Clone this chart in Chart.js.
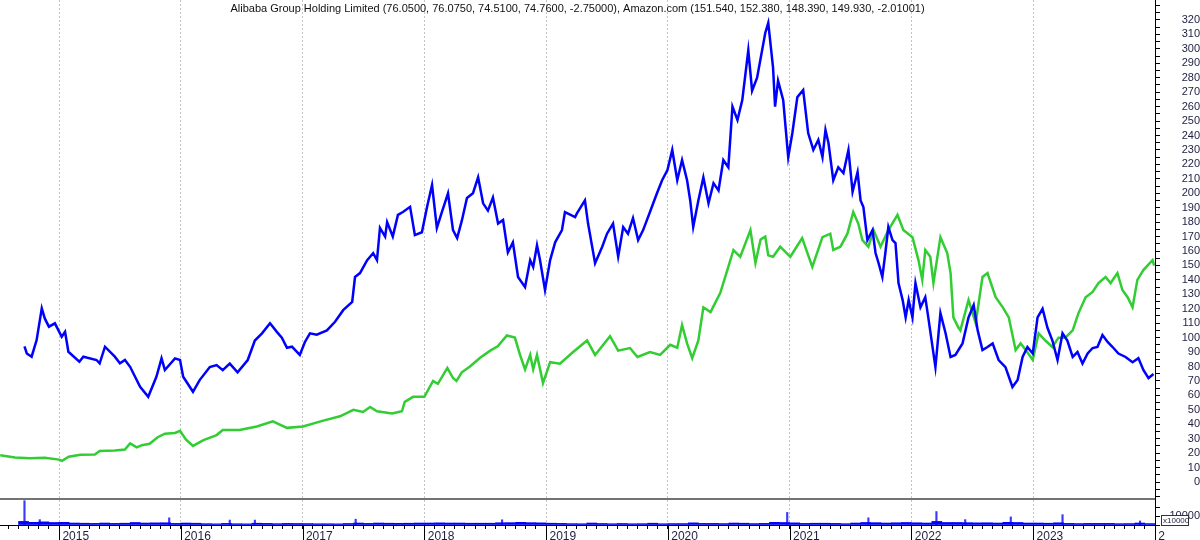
<!DOCTYPE html>
<html>
<head>
<meta charset="utf-8">
<script src="https://cdn.jsdelivr.net/npm/chart.js@4.4.0/dist/chart.umd.min.js"></script>
<style>
html, body { margin: 0; padding: 0; background: #fff; }
canvas { display: block; }
</style>
</head>
<body>
<canvas id="chart" width="1200" height="540"></canvas>
<script>
// Data

const title = 'Alibaba Group Holding Limited (76.0500, 76.0750, 74.5100, 74.7600, -2.75000), Amazon.com (151.540, 152.380, 148.390, 149.930, -2.01001)'

const babaDates = [
  '2014-09-19','2014-09-26','2014-10-10','2014-10-25','2014-11-10','2014-11-19','2014-12-01','2014-12-19',
  '2015-01-09','2015-01-19','2015-01-29','2015-03-01','2015-03-13','2015-04-22','2015-05-01','2015-05-17',
  '2015-06-16','2015-07-01','2015-07-16','2015-08-01','2015-08-31','2015-09-25','2015-10-19','2015-11-04',
  '2015-11-14','2015-12-14','2015-12-29','2016-01-08','2016-02-07','2016-02-27','2016-03-27','2016-04-17',
  '2016-05-05','2016-05-26','2016-06-19','2016-07-19','2016-08-10','2016-09-01','2016-09-25','2016-10-15',
  '2016-10-30','2016-11-15','2016-11-30','2016-12-23','2017-01-08','2017-01-23','2017-02-13','2017-03-13',
  '2017-04-07','2017-05-01','2017-05-28','2017-06-06','2017-06-21','2017-07-12','2017-07-30','2017-08-11',
  '2017-08-20','2017-09-05','2017-09-11','2017-09-28','2017-10-13','2017-10-28','2017-11-19','2017-12-03',
  '2017-12-24','2018-01-09','2018-01-24','2018-02-08','2018-02-23','2018-03-11','2018-03-26','2018-04-08',
  '2018-04-22','2018-05-07','2018-05-25','2018-06-10','2018-06-25','2018-07-09','2018-07-24','2018-08-09',
  '2018-08-24','2018-09-08','2018-09-23','2018-10-08','2018-10-29','2018-11-14','2018-11-23','2018-12-04',
  '2018-12-13','2018-12-28','2019-01-13','2019-01-28','2019-02-18','2019-02-27','2019-03-27','2019-04-02',
  '2019-04-26','2019-05-05','2019-05-26','2019-06-17','2019-07-01','2019-07-19','2019-08-04','2019-08-19',
  '2019-09-03','2019-09-18','2019-10-03','2019-10-18','2019-11-08','2019-11-29','2019-12-14','2019-12-30',
  '2020-01-14','2020-01-29','2020-02-13','2020-02-28','2020-03-07','2020-03-16','2020-04-01','2020-04-16',
  '2020-05-01','2020-05-16','2020-05-31','2020-06-15','2020-06-30','2020-07-12','2020-07-27','2020-08-11',
  '2020-08-29','2020-09-10','2020-09-25','2020-10-19','2020-10-28','2020-11-12','2020-11-18','2020-11-27',
  '2020-12-12','2020-12-27','2021-01-09','2021-01-24','2021-02-11','2021-02-26','2021-03-11','2021-03-26',
  '2021-04-08','2021-04-17','2021-04-26','2021-05-10','2021-05-25','2021-06-10','2021-06-25','2021-07-07',
  '2021-07-22','2021-07-31','2021-08-09','2021-08-21','2021-09-06','2021-09-15','2021-09-24','2021-10-05',
  '2021-10-14','2021-10-23','2021-11-05','2021-11-14','2021-11-23','2021-12-05','2021-12-14','2021-12-23',
  '2022-01-04','2022-01-13','2022-01-28','2022-02-12','2022-02-21','2022-03-12','2022-03-27','2022-04-12',
  '2022-04-27','2022-05-11','2022-06-02','2022-06-20','2022-07-05','2022-07-17','2022-08-01','2022-08-16',
  '2022-09-01','2022-09-19','2022-10-09','2022-10-30','2022-11-15','2022-11-30','2022-12-14','2022-12-30',
  '2023-01-14','2023-01-29','2023-02-13','2023-02-28','2023-03-13','2023-03-28','2023-04-12','2023-04-28',
  '2023-05-12','2023-05-27','2023-06-12','2023-06-27','2023-07-11','2023-07-26','2023-08-11','2023-08-26',
  '2023-09-13','2023-10-04','2023-10-25','2023-11-12','2023-11-27','2023-12-12','2023-12-27'
]
const babaClose = [
  93.9, 89, 86.8, 98.3, 120.3, 113.3, 107.6, 109.9,
  100.6, 104, 90.2, 83.3, 86.8, 84.5, 82.2, 93.7,
  86.8, 82.2, 84.5, 79.8, 66, 59, 72.9, 85.6,
  77.6, 85.6, 84.5, 72.9, 62.5, 70.6, 79.6, 81,
  77.5, 82, 76, 84.5, 98, 103, 110, 104,
  100, 93, 93.7, 88, 97, 103, 102, 105,
  111, 119, 124.7, 142, 144.7, 153.7, 158.5, 153.7,
  176, 170, 180, 170, 185, 187, 190.6, 171,
  173, 190.5, 205.7, 176, 187, 200, 174.5, 169,
  181, 196.7, 200, 211, 193, 188, 197, 179,
  181.5, 159, 166, 142, 135, 153.7, 149, 164,
  153.7, 133, 153.7, 166, 174.5, 187, 183.5, 186,
  195, 179, 151.6, 163, 172, 179, 156, 176.6,
  172, 182.8, 167.6, 174.5, 187, 200, 209, 216,
  230, 209, 223, 209, 195, 176.6, 195, 211,
  193, 207, 202, 223, 218, 260, 250.7, 264.5,
  299, 271, 280, 311, 318, 287, 260, 278,
  264.5, 225, 241.7, 266.6, 271.5, 241.7, 230, 237,
  225, 243.8, 234.8, 209, 218, 214, 230, 201,
  214.7, 195, 190.4, 167.6, 174.5, 158.6, 151.7, 142,
  158.6, 176.6, 167.6, 165.5, 137.8, 126, 114, 126,
  114, 137.8, 121, 128, 114, 79.6, 117, 103,
  86.6, 88, 96, 114, 122.6, 105, 91.4, 93.5,
  96, 84.5, 79.6, 65.8, 70.6, 86.6, 93.5, 89,
  114, 120, 107, 98, 84.5, 103, 98, 86.6,
  90, 82, 89, 92.8, 93.5, 101.8, 97, 93.5,
  89, 86.6, 83, 85.8, 77.6, 72, 74.76
]

const amznDates = [
  '2014-07-07','2014-08-21','2014-10-05','2014-11-19','2015-01-01','2015-01-10','2015-01-30','2015-03-04',
  '2015-04-17','2015-05-01','2015-06-16','2015-07-16','2015-08-01','2015-08-21','2015-09-06','2015-09-29',
  '2015-10-23','2015-11-14','2015-12-14','2015-12-29','2016-01-16','2016-02-07','2016-03-08','2016-04-17',
  '2016-05-05','2016-06-25','2016-08-16','2016-10-03','2016-11-15','2017-01-02','2017-03-02','2017-04-22',
  '2017-06-01','2017-06-30','2017-07-21','2017-08-11','2017-09-26','2017-10-25','2017-11-03','2017-11-28',
  '2018-01-01','2018-01-27','2018-02-11','2018-03-09','2018-03-26','2018-04-06','2018-04-22','2018-05-16',
  '2018-06-16','2018-07-16','2018-08-08','2018-09-05','2018-09-29','2018-10-14','2018-10-29','2018-11-14',
  '2018-11-23','2018-12-04','2018-12-22','2019-01-13','2019-02-12','2019-03-21','2019-05-02','2019-05-26',
  '2019-07-10','2019-08-04','2019-09-09','2019-10-01','2019-11-08','2019-12-08','2020-01-08','2020-01-29',
  '2020-02-13','2020-02-28','2020-03-13','2020-04-01','2020-04-16','2020-05-07','2020-06-06','2020-06-30',
  '2020-07-15','2020-08-05','2020-09-05','2020-09-20','2020-10-05','2020-10-19','2020-10-28','2020-11-12',
  '2020-12-03','2021-01-03','2021-02-08','2021-03-08','2021-04-08','2021-05-01','2021-05-10','2021-06-01',
  '2021-06-22','2021-07-09','2021-07-24','2021-08-06','2021-08-24','2021-09-09','2021-09-30','2021-10-23',
  '2021-11-20','2021-12-07','2022-01-04','2022-01-22','2022-02-03','2022-02-12','2022-02-27','2022-03-06',
  '2022-03-27','2022-04-17','2022-04-27','2022-05-05','2022-05-20','2022-05-26','2022-06-20','2022-07-11',
  '2022-08-01','2022-08-16','2022-09-10','2022-10-01','2022-10-19','2022-11-09','2022-11-24','2022-12-09',
  '2022-12-30','2023-01-17','2023-02-07','2023-02-28','2023-03-16','2023-04-06','2023-04-28','2023-05-15',
  '2023-06-06','2023-06-27','2023-07-14','2023-08-05','2023-08-20','2023-09-10','2023-09-25','2023-10-10',
  '2023-10-25','2023-11-09','2023-11-27','2023-12-24','2023-12-29'
]
const amznClose = [
  18.5, 17, 16.5, 16.8, 15.5, 14.6, 17.5, 18.8,
  19, 21.5, 21.8, 22.5, 26.8, 24, 25.5, 26.5,
  31, 33.5, 34, 35.5, 29.5, 25, 29, 32.5,
  36, 36, 38.5, 42, 37.5, 38.5, 42.5, 45.5,
  50, 48.5, 52, 49, 47.5, 49, 55.5, 59,
  59, 70, 68, 79, 72, 70, 76, 80,
  86, 91, 94, 101.5, 100, 88, 78, 88,
  78, 88, 68.5, 83, 82, 90, 98, 88,
  101, 91, 92.8, 86.6, 90, 88, 95, 93,
  108.7, 96, 85.8, 98, 121, 117.7, 131, 149,
  160.7, 156, 174.5, 151.7, 168, 170, 157, 156,
  163, 156, 169, 149, 169.6, 172, 160.7, 163,
  172, 187, 179, 167.6, 163, 174.5, 163, 174.5,
  185, 174.5, 169.6, 153.7, 140, 160.7, 156, 137.8,
  169.6, 158.6, 144.7, 114, 107, 105, 126, 110,
  142, 144.7, 128, 121, 114, 91.4, 96, 91.4,
  84.5, 103, 98, 93.5, 100, 100, 105, 117,
  128, 131.6, 137.8, 142, 137.8, 144.7, 133, 128,
  121, 140, 146.8, 153.7, 149.9
]

// monthly volume (millions of shares), Sep 2014 .. Dec 2023
const volStart = '2014-09'
const volMonthly = [
  40, 30, 35, 28,
  30, 22, 20, 18, 22, 18, 20, 28, 22, 24, 25, 18,
  22, 20, 15, 13, 18, 14, 13, 20, 18, 15, 18, 17,
  16, 14, 14, 13, 17, 22, 18, 22, 20, 19, 20, 22,
  22, 24, 22, 22, 20, 20, 20, 25, 26, 30, 26, 24,
  20, 18, 15, 14, 22, 17, 14, 17, 14, 15, 20, 14,
  16, 16, 24, 18, 18, 16, 22, 20, 16, 18, 30, 28,
  24, 18, 20, 20, 18, 15, 22, 28, 26, 22, 25, 28,
  25, 22, 40, 28, 28, 26, 24, 25, 22, 30, 28, 22,
  22, 20, 25, 18, 16, 18, 18, 18, 15, 16, 22, 16
]
// single heavy-volume days
const spikeDates = ['2014-09-19','2014-11-04','2015-11-27','2016-05-26','2016-08-10','2017-06-08','2018-08-21',
  '2020-12-24','2021-08-24','2022-03-15','2022-06-10','2022-10-25','2023-03-28','2023-11-17']
const spikeVolume = [271, 60, 80, 55, 55, 65, 58, 140, 80, 150, 60, 90, 115, 45]

const xMin = 2014.515
const xMax = 2024

// Helpers
const toYear = s => {
  const [y, m, d] = s.split('-').map(Number)
  return y + (m - 1) / 12 + ((d || 15) - 1) / 365
}
const zipPoints = (dates, vals) => dates.map((d, i) => ({x: toYear(d), y: vals[i]}))
const monthPoints = (start, vals) => {
  const [y0, m0] = start.split('-').map(Number)
  return vals.map((v, i) => ({x: y0 + (m0 - 1 + i + 0.5) / 12, y: v}))
}
const isYear = v => Math.abs(v - Math.round(v)) < 1e-6
const noPadding = axis => {
  axis.paddingTop = 0
  axis.paddingBottom = 0
  axis.paddingLeft = 0
  axis.paddingRight = 0
}

const labelColor = '#1e1e40'
const font = '"Liberation Sans", Arial, sans-serif'

const decorations = {
  id: 'decorations',
  afterDraw(chart) {
    const {ctx, chartArea, scales} = chart
    const x = scales.x, y2 = scales.y2
    ctx.save()
    // panel separator
    ctx.strokeStyle = '#444'
    ctx.lineWidth = 1.5
    ctx.beginPath()
    ctx.moveTo(chartArea.left, y2.top)
    ctx.lineTo(chartArea.right, y2.top)
    ctx.stroke()
    // long year ticks under the axis
    ctx.strokeStyle = '#000'
    ctx.lineWidth = 1
    for (let yr = Math.ceil(x.min); yr <= x.max; yr++) {
      const px = Math.round(x.getPixelForValue(yr)) + 0.5
      ctx.beginPath()
      ctx.moveTo(px, chartArea.bottom)
      ctx.lineTo(px, chart.height)
      ctx.stroke()
    }
    // title
    ctx.fillStyle = '#111'
    ctx.font = '11px ' + font
    ctx.textAlign = 'center'
    ctx.textBaseline = 'middle'
    ctx.fillText(title, (chartArea.left + chartArea.right) / 2, 9)
    // volume multiplier box
    const bx = y2.left + 6, by = y2.bottom - 10
    ctx.fillStyle = '#fff'
    ctx.fillRect(bx, by, 27, 10)
    ctx.strokeStyle = '#333'
    ctx.strokeRect(bx + 0.5, by + 0.5, 27, 10)
    ctx.fillStyle = labelColor
    ctx.font = '8px ' + font
    ctx.textAlign = 'left'
    ctx.fillText('x10000', bx + 2, by + 5.5)
    ctx.restore()
  }
}

new Chart(document.getElementById('chart'), {
  type: 'line',
  data: {
    datasets: [
      {
        label: 'Alibaba Group Holding Limited',
        data: zipPoints(babaDates, babaClose),
        yAxisID: 'y',
        borderColor: '#0000ff',
        borderWidth: 2.5,
        pointRadius: 0,
        tension: 0
      },
      {
        label: 'Amazon.com',
        data: zipPoints(amznDates, amznClose),
        yAxisID: 'y',
        borderColor: 'rgb(50,205,50)',
        borderWidth: 2.5,
        pointRadius: 0,
        tension: 0
      },
      {
        type: 'bar',
        label: 'Volume',
        data: monthPoints(volStart, volMonthly),
        yAxisID: 'y2',
        backgroundColor: '#0000ff',
        barThickness: 10,
        grouped: false
      },
      {
        type: 'bar',
        label: 'Volume spikes',
        data: zipPoints(spikeDates, spikeVolume),
        yAxisID: 'y2',
        backgroundColor: '#3a3aff',
        barThickness: 1.5,
        grouped: false
      }
    ]
  },
  options: {
    responsive: false,
    animation: false,
    layout: {padding: 0},
    plugins: {legend: {display: false}, tooltip: {enabled: false}},
    scales: {
      x: {
        type: 'linear',
        min: xMin,
        max: xMax,
        offset: false,
        afterBuildTicks: axis => {
          const ticks = []
          for (let y = 2014; y <= 2024; y++)
            for (let m = 0; m < 12; m++) {
              const v = y + m / 12
              if (v >= xMin && v <= xMax + 1e-6) ticks.push({value: v})
            }
          axis.ticks = ticks
        },
        afterFit: axis => { axis.height = 15; noPadding(axis) },
        ticks: {
          autoSkip: false,
          maxRotation: 0,
          align: 'start',
          padding: 0,
          color: labelColor,
          font: {family: font, size: 12},
          callback: v => {
            if (!isYear(v)) return ''
            const yr = Math.round(v)
            return yr === 2024 ? ' 2' : ' ' + yr
          }
        },
        grid: {
          offset: false,
          color: c => (c.tick && isYear(c.tick.value)) ? '#c4c4c4' : 'rgba(0,0,0,0)',
          tickColor: '#000',
          tickLength: 4,
          lineWidth: 1
        },
        border: {color: '#000', dash: [2, 2]}
      },
      y: {
        type: 'linear',
        position: 'right',
        stack: 'panels',
        stackWeight: 499,
        min: -11.77,
        max: 333.85,
        afterBuildTicks: axis => {
          const ticks = []
          for (let v = -10; v <= 330; v += 5) ticks.push({value: v})
          axis.ticks = ticks
        },
        afterFit: axis => { axis.width = 45; noPadding(axis) },
        ticks: {
          autoSkip: false,
          crossAlign: 'far',
          padding: 4,
          color: labelColor,
          font: {family: font, size: 11},
          callback: v => (v % 10 === 0 && v >= 0 && v <= 320) ? String(v) : ''
        },
        grid: {drawOnChartArea: false, tickColor: '#000', tickLength: 5},
        border: {color: '#000'}
      },
      y2: {
        type: 'linear',
        position: 'right',
        stack: 'panels',
        stackWeight: 26,
        min: 0,
        max: 290,
        afterBuildTicks: axis => { axis.ticks = [{value: 0}, {value: 100}, {value: 200}] },
        afterFit: axis => { axis.width = 45; noPadding(axis) },
        ticks: {
          autoSkip: false,
          crossAlign: 'far',
          padding: 4,
          color: labelColor,
          font: {family: font, size: 11},
          callback: v => v === 100 ? '10000' : ''
        },
        grid: {drawOnChartArea: false, tickColor: '#000', tickLength: 5},
        border: {color: '#000'}
      }
    }
  },
  plugins: [decorations]
})
</script>
</body>
</html>
